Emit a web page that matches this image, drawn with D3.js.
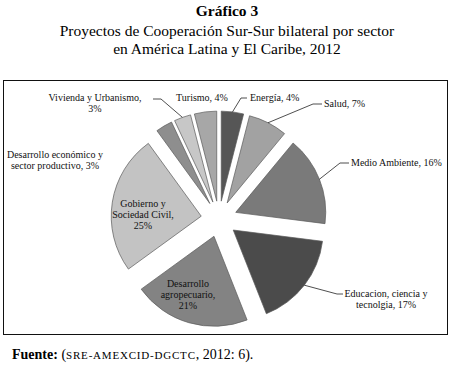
<!DOCTYPE html>
<html>
<head>
<meta charset="utf-8">
<script src="https://cdn.jsdelivr.net/npm/d3@7"></script>
<style>
  body { margin: 0; background: #fff; }
  svg text { font-family: "Liberation Serif", "DejaVu Serif", serif; }
</style>
</head>
<body>
<svg width="454" height="371"></svg>
<script>
// data
const sectors = ["Energía", "Salud", "Medio Ambiente", "Educacion, ciencia y tecnolgia",
  "Desarrollo agropecuario", "Gobierno y Sociedad Civil", "Desarrollo económico y sector productivo",
  "Vivienda y Urbanismo", "Turismo"];
const shares = [4, 7, 16, 17, 21, 25, 3, 3, 4];
const shades = ["#565656", "#a2a2a2", "#7a7a7a", "#4b4b4b", "#838383", "#c3c3c3", "#8e8e8e", "#c7c7c7", "#a7a7a7"];

// label text lines + layout (x, y of first baseline, anchor, leader elbow)
const labelLines = [
  ["Energía, 4%"],
  ["Salud, 7%"],
  ["Medio Ambiente, 16%"],
  ["Educacion, ciencia y", "tecnolgia, 17%"],
  ["Desarrollo", "agropecuario,", "21%"],
  ["Gobierno y", "Sociedad Civil,", "25%"],
  ["Desarrollo económico y", "sector productivo, 3%"],
  ["Vivienda y Urbanismo,", "3%"],
  ["Turismo, 4%"]
];
const labelPos = [
  { x: 250, y: 101, anchor: "start", elbow: [241, 98], end: [247, 98] },
  { x: 324, y: 107, anchor: "start", elbow: [313, 104], end: [322, 104] },
  { x: 351, y: 166, anchor: "start", elbow: [340, 163], end: [349, 163] },
  { x: 386, y: 297, anchor: "middle", elbow: [337, 294], end: [343, 294] },
  { x: 188, y: 287, anchor: "middle" },
  { x: 143, y: 207, anchor: "middle" },
  { x: 55, y: 158, anchor: "middle" },
  { x: 95, y: 101, anchor: "middle", elbow: [161, 99], end: [153, 99] },
  { x: 202, y: 101, anchor: "middle" }
];

const svg = d3.select("svg");
const width = +svg.attr("width");
const serif = "Liberation Serif";

const cx = 219, cy = 219, radius = 90, explode = 18;

// titles
svg.append("text")
  .attr("x", width / 2).attr("y", 16)
  .attr("text-anchor", "middle")
  .attr("font-family", serif)
  .attr("font-size", 15.5).attr("font-weight", "bold")
  .text("Gráfico 3");
svg.append("text")
  .attr("x", width / 2).attr("y", 36)
  .attr("text-anchor", "middle")
  .attr("font-family", serif)
  .attr("font-size", 15.5)
  .text("Proyectos de Cooperación Sur-Sur bilateral por sector");
svg.append("text")
  .attr("x", width / 2).attr("y", 54)
  .attr("text-anchor", "middle")
  .attr("font-family", serif)
  .attr("font-size", 15.5)
  .text("en América Latina y El Caribe, 2012");

// frame
svg.append("rect")
  .attr("x", 3.5).attr("y", 80.5)
  .attr("width", 444).attr("height", 254)
  .attr("fill", "none").attr("stroke", "#111").attr("stroke-width", 1);

const pie = d3.pie().sort(null).value(d => d);
const arcs = pie(shares);
const arc = d3.arc().innerRadius(0).outerRadius(radius);
const midAngle = d => (d.startAngle + d.endAngle) / 2;
const polar = (a, r) => [cx + r * Math.sin(a), cy - r * Math.cos(a)];

const g = svg.append("g");

g.selectAll("path.slice").data(arcs)
  .enter().append("path")
  .attr("class", "slice")
  .attr("transform", d => {
    const [x, y] = polar(midAngle(d), explode);
    return `translate(${x},${y})`;
  })
  .attr("d", arc)
  .attr("fill", (d, i) => shades[i])
  .attr("stroke", "#5a5a5a")
  .attr("stroke-width", 0.7);

// leader lines
arcs.forEach((d, i) => {
  const p = labelPos[i];
  if (!p.elbow) return;
  const start = polar(midAngle(d), explode + radius);
  svg.append("polyline")
    .attr("points", [start, p.elbow, p.end].map(q => q.join(",")).join(" "))
    .attr("fill", "none")
    .attr("stroke", "#222")
    .attr("stroke-width", 0.8);
});

// labels
arcs.forEach((d, i) => {
  const p = labelPos[i];
  const t = svg.append("text")
    .attr("font-family", serif)
    .attr("font-size", 10)
    .attr("text-anchor", p.anchor)
    .attr("fill", "#111");
  labelLines[i].forEach((line, k) => {
    t.append("tspan")
      .attr("x", p.x)
      .attr("y", p.y + k * 11)
      .text(line);
  });
});

// source
const src = svg.append("text")
  .attr("x", 12).attr("y", 359)
  .attr("font-family", serif)
  .attr("font-size", 14);
src.append("tspan").attr("font-weight", "bold").text("Fuente: ");
src.append("tspan").text("(");
src.append("tspan").attr("font-size", 11).attr("letter-spacing", 0.8).text("SRE-AMEXCID-DGCTC");
src.append("tspan").text(", 2012: 6).");
</script>
</body>
</html>
